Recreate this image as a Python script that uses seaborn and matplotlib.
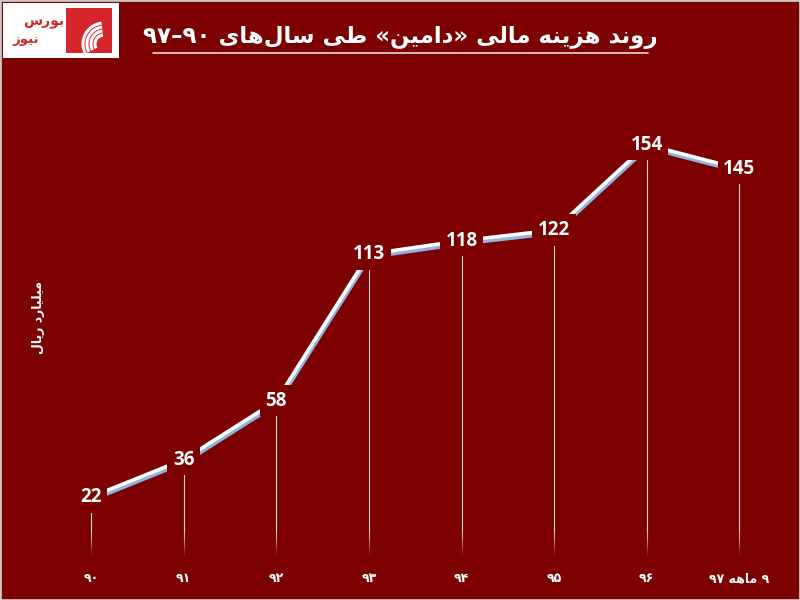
import re
import numpy as np
import matplotlib
matplotlib.use("Agg")
import matplotlib.pyplot as plt
import matplotlib.patheffects as pe
from matplotlib.patches import Rectangle, Arc
import seaborn as sns

# data
years = ["۹۰", "۹۱", "۹۲", "۹۳", "۹۴", "۹۵", "۹۶", "۹ ماهه ۹۷"]
cost = [22, 36, 58, 113, 118, 122, 154, 145]
title = "روند هزینه مالی «دامین» طی سال\u200cهای ۹۰–۹۷"
ylabel = "میلیارد ریال"
logo_words = ["بورس", "نیوز"]

BG = "#7d0000"
LOGO_RED = "#d7262b"

# matplotlib has no arabic shaping, so pick presentation forms by hand
FORMS = {
    'ا': ('\uFE8D', '\uFE8E', None, None),
    'د': ('\uFEA9', '\uFEAA', None, None),
    'ر': ('\uFEAD', '\uFEAE', None, None),
    'ز': ('\uFEAF', '\uFEB0', None, None),
    'و': ('\uFEED', '\uFEEE', None, None),
    'ب': ('\uFE8F', '\uFE90', '\uFE91', '\uFE92'),
    'ن': ('\uFEE5', '\uFEE6', '\uFEE7', '\uFEE8'),
    'ه': ('\uFEE9', '\uFEEA', '\uFEEB', '\uFEEC'),
    'ی': ('\uFEEF', '\uFEF0', '\uFEF3', '\uFEF4'),
    'م': ('\uFEE1', '\uFEE2', '\uFEE3', '\uFEE4'),
    'ل': ('\uFEDD', '\uFEDE', '\uFEDF', '\uFEE0'),
    'ط': ('\uFEC1', '\uFEC2', '\uFEC3', '\uFEC4'),
    'س': ('\uFEB1', '\uFEB2', '\uFEB3', '\uFEB4'),
}
MIRROR = {'«': '»', '»': '«'}


def fa(text):
    out = []
    for i, ch in enumerate(text):
        if ch not in FORMS:
            if ch != '\u200c':
                out.append(MIRROR.get(ch, ch))
            continue
        prev = text[i - 1] if i > 0 else ''
        nxt = text[i + 1] if i + 1 < len(text) else ''
        jp = prev in FORMS and FORMS[prev][2] is not None
        jn = nxt in FORMS and FORMS[ch][2] is not None
        iso, fin, ini, med = FORMS[ch]
        if jp and jn:
            out.append(med)
        elif jp:
            out.append(fin)
        elif jn:
            out.append(ini)
        else:
            out.append(iso)
    vis = ''.join(out)[::-1]
    return re.sub(r'[۰-۹0-9]+', lambda m: m.group()[::-1], vis)


sns.set_style("white")
plt.rcParams['font.family'] = ['DejaVu Sans']

fig = plt.figure(figsize=(8, 6), dpi=100, facecolor=BG)
ax = fig.add_axes([0.056, 0.074, 0.926, 0.756])
ax.set_facecolor(BG)

pos = np.arange(len(cost))

# drop lines, fading near the base
ax.vlines(pos, 9, cost, color="white", lw=0.8, alpha=0.85, zorder=1)
for k, a in zip(np.linspace(0, 9, 10)[:-1], np.linspace(0.05, 0.8, 9)):
    ax.vlines(pos, k, k + 1, color="white", lw=0.8, alpha=a, zorder=1)

sns.lineplot(x=pos, y=cost, ax=ax, color="white", lw=2.6, zorder=2,
             path_effects=[pe.SimpleLineShadow(offset=(0.6, -2.2), shadow_color="#8db3e2", alpha=1.0),
                           pe.Normal()])

for x, v in zip(pos, cost):
    ax.text(x, v, str(v), ha="center", va="center", color="white", fontsize=13.5,
            fontweight="bold", family=["Open Sans", "DejaVu Sans"], zorder=3,
            bbox=dict(boxstyle="square,pad=0.3", fc=BG, ec="none"))

ax.set_xlim(-0.5, len(cost) - 0.5)
ax.set_ylim(0, 170)
ax.set_xticks(pos)
ax.set_xticklabels([fa(y) for y in years], color="white", fontsize=9, fontweight="bold")
ax.tick_params(axis="x", length=0, pad=12)
ax.set_yticks([])
ax.set_xlabel("")
ax.set_ylabel("")
for s in ax.spines.values():
    s.set_visible(False)

fig.text(0.048, 0.47, fa(ylabel), rotation=90, ha="center", va="center",
         color="white", fontsize=9, fontweight="bold")

# title with underline
fig.text(0.5, 0.937, fa(title), ha="center", va="center", color="white",
         fontsize=16.5, fontweight="bold")
fig.add_artist(plt.Line2D([0.191, 0.81], [0.911, 0.911], color="#e8d8d8", lw=1.2))

# logo
fig.add_artist(Rectangle((3 / 800, 1 - 58 / 600), 116 / 800, 55 / 600,
                         transform=fig.transFigure, fc="white", ec="none"))
fig.add_artist(Rectangle((66 / 800, 1 - 53 / 600), 46 / 800, 45 / 600,
                         transform=fig.transFigure, fc=LOGO_RED, ec="none"))
for r in [9, 13, 17, 21]:
    fig.add_artist(Arc((104 / 800, 1 - 44 / 600), 2 * r / 800, 2 * r / 600,
                       theta1=95, theta2=215, transform=fig.transFigure,
                       color="white", lw=2.2))
fig.text(44 / 800, 1 - 22 / 600, fa(logo_words[0]), ha="center", va="center",
         color=LOGO_RED, fontsize=10, fontweight="bold")
fig.text(26 / 800, 1 - 40 / 600, fa(logo_words[1]), ha="center", va="center",
         color=LOGO_RED, fontsize=9.5, fontweight="bold")

fig.add_artist(Rectangle((0, 0), 1, 1, transform=fig.transFigure, fc="none",
                         ec="#c8c8c8", lw=2))

fig.savefig("out.png", dpi=100, facecolor=BG)
